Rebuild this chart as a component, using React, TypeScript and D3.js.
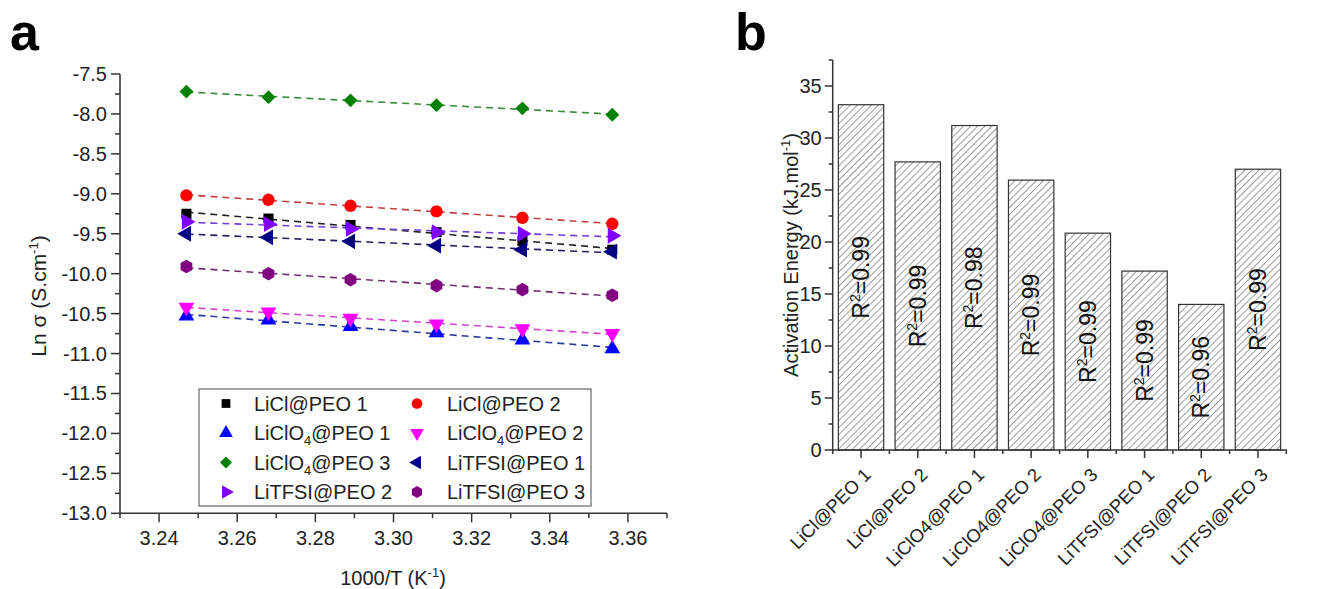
import React from "react";
import * as d3 from "d3";

// ---------- Panel a data ----------
const invT = [3.247, 3.268, 3.289, 3.311, 3.333, 3.356];
const seriesNames = [
  "LiCl@PEO 1",
  "LiCl@PEO 2",
  "LiClO4@PEO 1",
  "LiClO4@PEO 2",
  "LiClO4@PEO 3",
  "LiTFSI@PEO 1",
  "LiTFSI@PEO 2",
  "LiTFSI@PEO 3",
];
const liclPeo1 = [-9.25, -9.31, -9.39, -9.48, -9.59, -9.7];
const liclPeo2 = [-9.02, -9.075, -9.15, -9.22, -9.3, -9.375];
const liclo4Peo1 = [-10.53, -10.58, -10.66, -10.74, -10.83, -10.94];
const liclo4Peo2 = [-10.42, -10.48, -10.56, -10.63, -10.69, -10.75];
const liclo4Peo3 = [-7.72, -7.79, -7.83, -7.89, -7.93, -8.01];
const litfsiPeo1 = [-9.5, -9.545, -9.595, -9.65, -9.7, -9.725];
const litfsiPeo2 = [-9.35, -9.38, -9.44, -9.48, -9.5, -9.525];
const litfsiPeo3 = [-9.91, -10.0, -10.075, -10.15, -10.2, -10.27];
const seriesValues = [liclPeo1, liclPeo2, liclo4Peo1, liclo4Peo2, liclo4Peo3, litfsiPeo1, litfsiPeo2, litfsiPeo3];
const seriesColors = ["#000000", "#ff0000", "#0000ff", "#ff00ff", "#008000", "#000080", "#8000ff", "#800080"];
const fitColors = ["#222222", "#c04040", "#2a3a9a", "#d040d0", "#3a8a3a", "#202060", "#7040d0", "#703070"];
const seriesShapes = ["square", "circle", "up", "down", "diamond", "left", "right", "hexagon"];
const xTicksA = [3.24, 3.26, 3.28, 3.3, 3.32, 3.34, 3.36];
const yTicksA = [-13, -12.5, -12, -11.5, -11, -10.5, -10, -9.5, -9, -8.5, -8, -7.5];

// ---------- Panel b data ----------
const categories = [
  "LiCl@PEO 1",
  "LiCl@PEO 2",
  "LiClO4@PEO 1",
  "LiClO4@PEO 2",
  "LiClO4@PEO 3",
  "LiTFSI@PEO 1",
  "LiTFSI@PEO 2",
  "LiTFSI@PEO 3",
];
const activationEnergy = [33.2, 27.7, 31.2, 25.95, 20.85, 17.2, 14.0, 27.0];
const rSquared = ["0.99", "0.99", "0.98", "0.99", "0.99", "0.99", "0.96", "0.99"];
const yTicksB = [0, 5, 10, 15, 20, 25, 30, 35];

const FONT = "Arial, 'Liberation Sans', Helvetica, sans-serif";

function markerPath(shape: string, size: number): { d: string; rot: number } {
  switch (shape) {
    case "square":
      return { d: d3.symbol().type(d3.symbolSquare).size(size * 0.85)()!, rot: 0 };
    case "circle":
      return { d: d3.symbol().type(d3.symbolCircle).size(size)()!, rot: 0 };
    case "up":
      return { d: d3.symbol().type(d3.symbolTriangle).size(size * 0.9)()!, rot: 0 };
    case "down":
      return { d: d3.symbol().type(d3.symbolTriangle).size(size * 0.9)()!, rot: 180 };
    case "left":
      return { d: d3.symbol().type(d3.symbolTriangle).size(size * 0.9)()!, rot: -90 };
    case "right":
      return { d: d3.symbol().type(d3.symbolTriangle).size(size * 0.9)()!, rot: 90 };
    case "diamond":
      return { d: d3.symbol().type(d3.symbolSquare).size(size * 0.8)()!, rot: 45 };
    default: {
      const r = Math.sqrt(size / 2.6);
      const pts = d3.range(6).map((i) => {
        const a = (Math.PI / 3) * i - Math.PI / 2;
        return [r * Math.cos(a), r * Math.sin(a)] as [number, number];
      });
      return { d: d3.line()(pts)! + "Z", rot: 0 };
    }
  }
}

function Marker({ shape, x, y, color, size = 120 }: any) {
  const m = markerPath(shape, size);
  return <path d={m.d} transform={`translate(${x},${y}) rotate(${m.rot})`} fill={color} />;
}

function SeriesLabel({ name }: { name: string }) {
  const idx = name.indexOf("ClO4");
  if (idx < 0) return <>{name}</>;
  const pre = name.slice(0, idx + 3);
  const post = name.slice(idx + 4);
  return (
    <>
      {pre}
      <tspan fontSize="13" dy="5">4</tspan>
      <tspan dy="-5">{post}</tspan>
    </>
  );
}

function fitLine(xs: number[], ys: number[]) {
  const mx = d3.mean(xs)!;
  const my = d3.mean(ys)!;
  let num = 0;
  let den = 0;
  xs.forEach((x, i) => {
    num += (x - mx) * (ys[i] - my);
    den += (x - mx) * (x - mx);
  });
  const b = num / den;
  const a = my - b * mx;
  const x0 = xs[0];
  const x1 = xs[xs.length - 1];
  return [
    [x0, a + b * x0],
    [x1, a + b * x1],
  ];
}

function PanelA() {
  const x = d3.scaleLinear().domain([3.23, 3.37]).range([120, 667]);
  const y = d3.scaleLinear().domain([-13, -7.5]).range([513.3, 74]);
  const xMinor = d3.range(3.23, 3.375, 0.02);
  const yMinor = d3.range(-12.75, -7.5, 0.5);
  const line = d3
    .line<number[]>()
    .x((d) => x(d[0]))
    .y((d) => y(d[1]));
  const x0 = x.range()[0];
  const y0 = y.range()[0];
  const legendRows = [0, 1, 2, 3];
  return (
    <g fontFamily={FONT} fill="#222">
      <text x={10} y={50} fontSize={52} fontWeight="bold" fill="#000">a</text>
      {/* axes */}
      <line x1={x0} x2={x0} y1={y(-7.5)} y2={y0} stroke="#333" strokeWidth={1.5} />
      <line x1={x0} x2={x.range()[1]} y1={y0} y2={y0} stroke="#333" strokeWidth={1.5} />
      {yTicksA.map((t) => (
        <g key={"yt" + t}>
          <line x1={x0 - 9} x2={x0} y1={y(t)} y2={y(t)} stroke="#333" strokeWidth={1.5} />
          <text x={x0 - 13} y={y(t)} dy="0.35em" textAnchor="end" fontSize={20}>
            {t.toFixed(1)}
          </text>
        </g>
      ))}
      {yMinor.map((t) => (
        <line key={"ym" + t} x1={x0 - 5} x2={x0} y1={y(t)} y2={y(t)} stroke="#333" strokeWidth={1.5} />
      ))}
      {xTicksA.map((t) => (
        <g key={"xt" + t}>
          <line x1={x(t)} x2={x(t)} y1={y0} y2={y0 + 9} stroke="#333" strokeWidth={1.5} />
          <text x={x(t)} y={y0 + 32} textAnchor="middle" fontSize={20}>
            {t.toFixed(2)}
          </text>
        </g>
      ))}
      {xMinor.map((t) => (
        <line key={"xm" + t} x1={x(t)} x2={x(t)} y1={y0} y2={y0 + 5} stroke="#333" strokeWidth={1.5} />
      ))}
      <text x={393} y={585} textAnchor="middle" fontSize={20}>
        1000/T (K<tspan fontSize={13} dy={-8}>-1</tspan>
        <tspan dy={8}>)</tspan>
      </text>
      <text transform="translate(46,296) rotate(-90)" textAnchor="middle" fontSize={21}>
        Ln σ (S.cm<tspan fontSize={13} dy={-8}>-1</tspan>
        <tspan dy={8}>)</tspan>
      </text>
      {/* fit lines */}
      {seriesValues.map((vals, i) => (
        <path
          key={"fit" + i}
          d={line(fitLine(invT, vals))!}
          stroke={fitColors[i]}
          strokeWidth={1.6}
          strokeDasharray="7,5"
          fill="none"
        />
      ))}
      {/* markers */}
      {seriesValues.map((vals, i) =>
        vals.map((v, j) => (
          <Marker key={`m${i}-${j}`} shape={seriesShapes[i]} x={x(invT[j])} y={y(v)} color={seriesColors[i]} />
        ))
      )}
      {/* legend */}
      <rect x={199} y={389} width={392} height={117} fill="#fff" stroke="#666" strokeWidth={1.2} />
      {legendRows.map((r) =>
        [0, 1].map((c) => {
          const i = r * 2 + c;
          const cy = 403.5 + r * 29.5;
          const mx = c === 0 ? 226 : 417;
          const tx = c === 0 ? 254 : 447;
          return (
            <g key={"lg" + i}>
              <Marker shape={seriesShapes[i]} x={mx} y={cy} color={seriesColors[i]} size={90} />
              <text x={tx} y={cy + 7} fontSize={20}>
                <SeriesLabel name={seriesNames[i]} />
              </text>
            </g>
          );
        })
      )}
    </g>
  );
}

function PanelB() {
  const x = d3.scaleBand<string>().domain(categories).range([832.7, 1286.3]).paddingInner(0.2).paddingOuter(0.1);
  const y = d3.scaleLinear().domain([0, 37.5]).range([450, 60]);
  const x0 = 832.7;
  const y0 = y(0);
  const step = x.step();
  const yMinor = d3.range(2.5, 40, 5);
  const boundaries = d3.range(categories.length + 1).map((i) => x0 + i * step);
  return (
    <g fontFamily={FONT} fill="#222">
      <defs>
        <pattern id="hatch" patternUnits="userSpaceOnUse" width={5} height={5} patternTransform="rotate(45)">
          <rect width={5} height={5} fill="#fff" />
          <line x1={0} y1={0} x2={0} y2={5} stroke="#6a6a6a" strokeWidth={1.3} />
        </pattern>
      </defs>
      <text x={735} y={50} fontSize={52} fontWeight="bold" fill="#000">b</text>
      {categories.map((c, i) => {
        const bx = x(c)!;
        const by = y(activationEnergy[i]);
        return (
          <rect
            key={"bar" + c}
            x={bx}
            y={by}
            width={x.bandwidth()}
            height={y0 - by}
            fill="url(#hatch)"
            stroke="#333"
            strokeWidth={1.2}
          />
        );
      })}
      {categories.map((c, i) => {
        const cx = x(c)! + x.bandwidth() / 2;
        const cy = y(activationEnergy[i] / 2);
        return (
          <text
            key={"r2" + c}
            transform={`translate(${cx + 8},${cy}) rotate(-90)`}
            textAnchor="middle"
            fontSize={23}
            fill="#111"
          >
            R<tspan fontSize={14} dy={-9}>2</tspan>
            <tspan dy={9}>={rSquared[i]}</tspan>
          </text>
        );
      })}
      <line x1={x0} x2={x0} y1={60} y2={y0} stroke="#333" strokeWidth={1.5} />
      <line x1={x0} x2={1287} y1={y0} y2={y0} stroke="#333" strokeWidth={1.5} />
      {yTicksB.map((t) => (
        <g key={"ybt" + t}>
          <line x1={x0 - 8} x2={x0} y1={y(t)} y2={y(t)} stroke="#333" strokeWidth={1.5} />
          <text x={x0 - 11} y={y(t)} dy="0.35em" textAnchor="end" fontSize={20}>
            {t}
          </text>
        </g>
      ))}
      {yMinor.map((t) => (
        <line key={"ybm" + t} x1={x0 - 4} x2={x0} y1={y(t)} y2={y(t)} stroke="#333" strokeWidth={1.5} />
      ))}
      {boundaries.map((bx, i) => (
        <line key={"xbm" + i} x1={bx} x2={bx} y1={y0} y2={y0 + 4} stroke="#333" strokeWidth={1.5} />
      ))}
      {categories.map((c) => {
        const cx = x(c)! + x.bandwidth() / 2;
        return (
          <g key={"xbt" + c}>
            <line x1={cx} x2={cx} y1={y0} y2={y0 + 8} stroke="#333" strokeWidth={1.5} />
            <text transform={`translate(${cx + 11},${y0 + 26}) rotate(-45)`} textAnchor="end" fontSize={18.5}>
              {c}
            </text>
          </g>
        );
      })}
      <text transform="translate(798,255) rotate(-90)" textAnchor="middle" fontSize={20}>
        Activation Energy (kJ.mol<tspan fontSize={13} dy={-8}>-1</tspan>
        <tspan dy={8}>)</tspan>
      </text>
    </g>
  );
}

export default function App() {
  return (
    <svg
      width={1317}
      height={589}
      style={{ position: "absolute", left: 0, top: 0, background: "#fff" }}
    >
      <rect width={1317} height={589} fill="#fff" />
      <PanelA />
      <PanelB />
    </svg>
  );
}
